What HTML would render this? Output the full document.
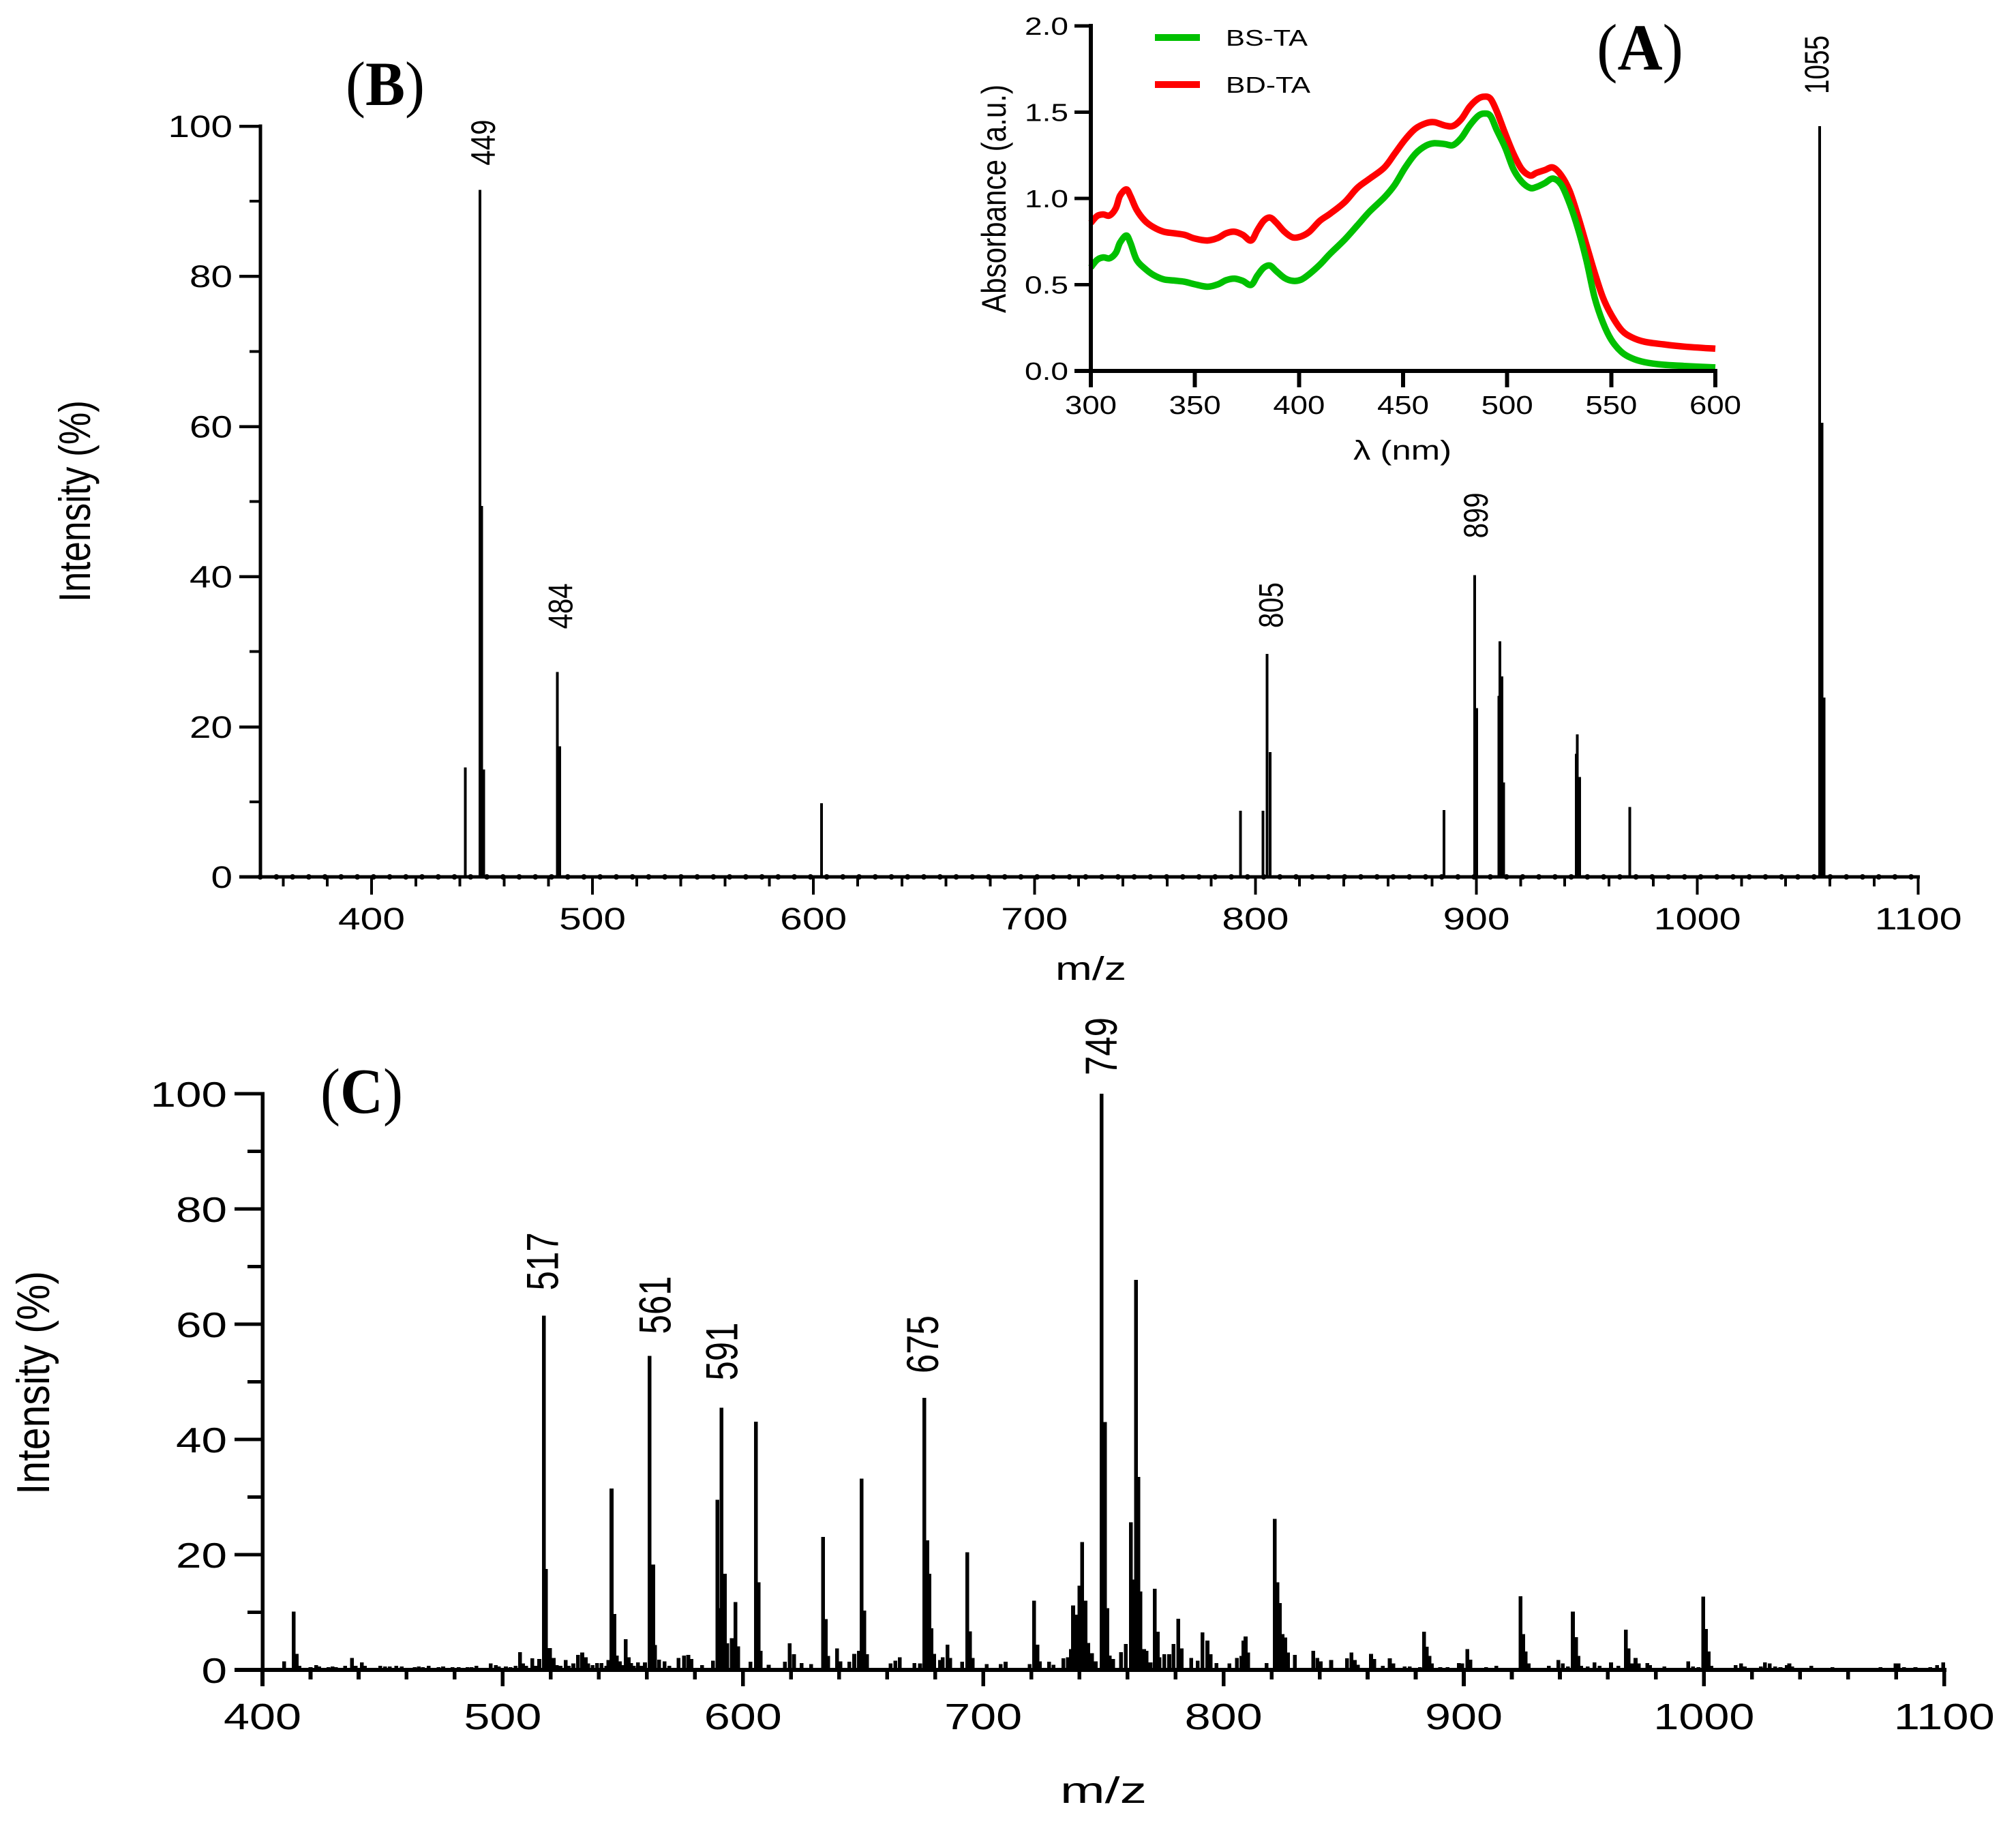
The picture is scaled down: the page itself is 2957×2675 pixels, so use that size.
<!DOCTYPE html>
<html lang="en">
<head>
<meta charset="utf-8">
<title>Absorbance and mass spectra</title>
<style>
html,body{margin:0;padding:0;background:#fff;width:2957px;height:2675px;overflow:hidden}
svg{display:block}
text{font-family:"Liberation Sans",Arial,sans-serif;fill:#000}
.panel{font-family:"Liberation Serif","Times New Roman",serif}
</style>
</head>
<body>
<svg id="figure" xmlns="http://www.w3.org/2000/svg" width="2957" height="2675" viewBox="0 0 2957 2675">
  <rect x="0" y="0" width="2957" height="2675" fill="#fff"/>

  <g id="panel-a">
    <text class="panel" x="2342" y="102" font-size="96" font-weight="bold" textLength="127" lengthAdjust="spacingAndGlyphs"><tspan font-weight="normal">(</tspan>A<tspan font-weight="normal">)</tspan></text>
    <text transform="translate(1475,459) rotate(-90)" font-size="50" textLength="335" lengthAdjust="spacingAndGlyphs">Absorbance (a.u.)</text>
    <text x="1985" y="674" font-size="40" textLength="144" lengthAdjust="spacingAndGlyphs">λ (nm)</text>
    <rect x="1694" y="50" width="66" height="10" fill="#00c000"/>
    <text x="1798" y="67" font-size="33" textLength="120" lengthAdjust="spacingAndGlyphs">BS-TA</text>
    <rect x="1694" y="119" width="66" height="10" fill="#ff0000"/>
    <text x="1798" y="136" font-size="33" textLength="124" lengthAdjust="spacingAndGlyphs">BD-TA</text>
  </g>

  <g id="panel-b">
    <text class="panel" x="507" y="154" font-size="92" font-weight="bold" textLength="116" lengthAdjust="spacingAndGlyphs"><tspan font-weight="normal">(</tspan>B<tspan font-weight="normal">)</tspan></text>
    <text transform="translate(132,883) rotate(-90)" font-size="65" textLength="296" lengthAdjust="spacingAndGlyphs">Intensity (%)</text>
    <text x="1548" y="1437" font-size="48" textLength="104" lengthAdjust="spacingAndGlyphs">m/z</text>
  </g>

  <g id="panel-c">
    <text class="panel" x="470" y="1632" font-size="94" font-weight="bold" textLength="121" lengthAdjust="spacingAndGlyphs"><tspan font-weight="normal">(</tspan>C<tspan font-weight="normal">)</tspan></text>
    <text transform="translate(72,2192) rotate(-90)" font-size="68" textLength="328" lengthAdjust="spacingAndGlyphs">Intensity (%)</text>
    <text x="1555" y="2644" font-size="54" textLength="127" lengthAdjust="spacingAndGlyphs">m/z</text>
  </g>
</svg>

<script>
// ---------- Panel A data ----------
const aWavelength = [300,303,306,309,312,314,317,319,322,326,330,335,340,345,350,356,361,365,369,373,377,380,383,386,389,393,397,401,405,410,415,422,428,434,441,446,451,456,461,465,470,474,478,482,486,489,492,495,499,503,507,511,514,518,522,526,530,534,538,542,546,550,555,560,566,575,585,600];
const aBsTa = [0.60,0.644,0.658,0.653,0.684,0.743,0.785,0.743,0.644,0.593,0.557,0.531,0.524,0.517,0.502,0.488,0.502,0.526,0.535,0.522,0.499,0.553,0.598,0.611,0.58,0.539,0.522,0.529,0.562,0.616,0.68,0.762,0.843,0.925,1.006,1.079,1.179,1.26,1.306,1.32,1.315,1.309,1.351,1.423,1.478,1.492,1.478,1.396,1.296,1.17,1.097,1.061,1.066,1.088,1.115,1.079,0.97,0.825,0.644,0.426,0.281,0.181,0.109,0.073,0.051,0.036,0.029,0.02];
const aBdTa = [0.858,0.898,0.907,0.901,0.943,1.015,1.052,1.015,0.934,0.87,0.834,0.807,0.798,0.789,0.767,0.756,0.771,0.798,0.807,0.789,0.756,0.816,0.87,0.889,0.861,0.807,0.774,0.78,0.807,0.87,0.912,0.979,1.061,1.115,1.179,1.26,1.342,1.405,1.436,1.442,1.423,1.42,1.46,1.532,1.578,1.59,1.578,1.505,1.378,1.26,1.17,1.133,1.148,1.164,1.179,1.133,1.043,0.898,0.734,0.571,0.426,0.326,0.236,0.194,0.169,0.154,0.141,0.129];
const aXTickLabels = ['300','350','400','450','500','550','600'];
const aYTickLabels = ['0.0','0.5','1.0','1.5','2.0'];

// ---------- Panel B data ----------
const bMz = [442.4,449.1,449.9,450.7,484.1,485.1,603.7,793.3,803.5,805.2,806.7,885.4,899.3,900.2,910.2,910.6,911.6,912.3,945.2,945.7,946.7,969.4,1055.4,1056.4,1057.3];
const bIntensity = [14.6,91.5,49.4,14.3,27.3,17.4,9.8,8.8,8.8,29.7,16.6,8.9,40.2,22.5,24.1,31.4,26.7,12.6,16.4,19,13.3,9.3,100,60.5,23.9];
const bXTickLabels = ['400','500','600','700','800','900','1000','1100'];
const bYTickLabels = ['0','20','40','60','80','100'];
const bPeakLabels = ['449','484','805','899','1055'];
const bPeakLabelMz = [449.1,484.1,805.2,899.3,1055.4];
const bPeakLabelIntensity = [91.5,27.3,29.7,40.2,100];

// ---------- Panel C data ----------
const cMz = [409,413,414.3,415.4,420,422.4,423.6,427.4,429.2,430.6,434.4,437.2,438.8,441.4,442.6,449,451,453,455.7,458,463.3,465,466.7,469.2,473.3,475.2,479.1,481.7,485.3,487,489,495,497.1,498.4,501.3,503.2,505.4,507.2,508.5,509.8,512.3,513.6,515.2,517.1,518,519.6,521.2,522.5,524.1,526.2,527.5,529.4,531.3,533.1,534.5,535.5,537.4,539.3,541.1,543.1,544,545.3,546.5,547.5,548.7,550,551.2,552.5,553.5,554.5,556.3,557.5,559.2,561.1,562.6,563.4,565.1,567.4,569.3,573.2,575.4,577.2,578.5,583,587.5,589.3,590.2,591.1,592.4,593.5,595.3,596.9,598,603.1,605.4,606.5,607.4,610.7,617.4,619.4,621.2,624.4,628.4,633.3,634.4,635.5,639.1,640.6,644.2,646.3,648.2,649.4,650.5,651.6,661.4,663.4,665.2,671.3,673.7,675.5,676.7,677.6,678.4,679.6,682,683.1,685.1,686.3,691.2,693.4,694.5,695.6,701.4,707.3,709.3,719.3,721.1,722.5,723.6,727.4,729.2,733.4,735.2,736.5,737.4,738.4,740.1,741.2,742.6,743.7,745.3,746.8,749.3,750.6,751.7,752.7,754,757.3,759.3,761.4,762.3,763.6,764.5,765.4,766.9,768,769.6,771.4,772.6,773.4,775.4,777.4,779.2,781.2,782.6,786.6,789.3,791.3,793.3,794.6,797.1,802.5,805.6,807.4,808.3,809.2,810.3,817.9,821.3,822.4,823.5,824.6,825.7,826.8,829.7,837.4,839.1,840.5,844.8,851.4,853.2,854.7,856,861.4,862.7,866.3,869.2,870.7,875.4,877.5,881.8,883.5,884.6,885.7,886.7,890.2,893.3,897.9,899.3,901.5,902.8,909.3,913.5,923.6,924.7,925.7,927,935.4,939.4,941.2,943.4,945.4,946.7,947.8,948.9,951.6,954.4,956.5,961.3,964.4,967.5,968.6,969.9,971.5,972.8,976.4,977.5,983.5,993.4,995.4,997.7,999.7,1000.8,1001.9,1003,1013.2,1015.4,1016.9,1023.6,1025.4,1027.3,1029.6,1031.8,1034.5,1035.5,1036.7,1044.6,1053.5,1073.4,1079.7,1081,1083.2,1088,1094.2,1097,1099.6];
const cIntensity = [1.5,10.1,2.8,0.7,0.5,0.8,0.6,0.5,0.6,0.5,0.7,2.1,0.7,1.3,0.7,0.7,0.6,0.6,0.7,0.6,0.5,0.6,0.5,0.7,0.5,0.6,0.5,0.5,0.5,0.5,0.7,1.1,0.8,0.6,0.6,0.5,0.7,3.1,1.1,0.7,2,0.7,1.9,61.5,17.5,3.8,2.1,0.8,0.7,1.7,0.7,1.1,2.6,3,2.2,1.1,0.8,1.2,1.2,0.7,1.7,31.5,9.7,2.5,1.5,0.8,5.3,2.2,1.2,0.7,1.3,0.7,1.3,54.5,18.3,4.3,1.8,1.5,0.7,2.1,2.5,2.6,1.9,0.8,1.6,29.5,10.7,45.5,16.7,4.6,5.5,11.8,4.1,1.4,43.1,15.2,3.3,0.9,1.4,4.6,2.7,1.2,1,23.1,8.8,2.4,3.7,1.5,1.4,2.8,3.3,33.2,10.3,2.7,1.1,1.6,2.2,1.2,1.1,47.2,22.5,16.7,7.2,2.8,1.7,2.2,4.4,2.1,1.4,20.4,6.7,2.1,1,1,1.4,1,12,4.4,1.5,1.4,0.9,2,2.2,3.6,11.2,9.6,14.6,22.2,12,4.7,2.9,1.5,100,43,10.7,2.5,1.9,3.1,4.5,25.6,15.7,67.7,33.5,13.6,3.6,3.3,1.3,14.1,6.6,2.2,2.7,2.7,4.5,8.9,3.7,2.1,1.6,6.5,5.1,2.7,1.2,1.1,2.1,2.4,5.1,5.8,3,1.2,26.2,15.2,11.6,6.2,5.6,3,2.6,3.3,2.1,1.5,1.7,2,3,1.7,0.9,2.8,1.9,0.7,2,1.1,0.6,0.6,0.5,6.6,4,2.4,1.1,0.5,0.5,1.2,1.1,3.6,1.8,0.5,0.7,12.8,6.2,3.2,1.1,0.7,1.7,1.1,0.6,10.1,5.7,2.4,0.7,0.6,1.3,0.7,1.3,0.7,7,3.7,1.1,2.1,1.1,1.2,0.8,0.6,1.5,0.6,0.5,12.7,7.1,3.2,0.7,0.8,1.1,0.6,0.6,1.3,1.1,0.6,0.5,0.8,1.1,0.6,0.7,0.5,0.5,1.1,1.1,0.5,0.5,0.5,0.8,1.3];
const cXTickLabels = ['400','500','600','700','800','900','1000','1100'];
const cYTickLabels = ['0','20','40','60','80','100'];
const cPeakLabels = ['517','561','591','675','749'];
const cPeakLabelMz = [517.1,561.1,591.1,675.5,749.3];
const cPeakLabelIntensity = [61.5,54.5,45.5,47.2,100];

// ---------- Axis functions ----------
const xA = v => 1600 + (v - 300) * (2516 - 1600) / 300;
const yA = v => 544 - v * (544 - 38) / 2;
const xB = v => 545 + (v - 400) * 3.241;
const yB = v => 1286 - v * 11.01;
const xC = v => 385 + (v - 400) * 3.524;
const yC = v => 2449 - v * 8.45;

const NS = 'http://www.w3.org/2000/svg';
const gA = document.getElementById('panel-a');
const gB = document.getElementById('panel-b');
const gC = document.getElementById('panel-c');

function addRect(parent, name, x, y, w, h, fill) {
  const el = document.createElementNS(NS, 'rect');
  
  
  el.setAttribute('x', x);
  el.setAttribute('y', y);
  el.setAttribute('width', w);
  el.setAttribute('height', h);
  el.setAttribute('fill', fill || '#000');
  el.setAttribute('shape-rendering', 'crispEdges');
  parent.appendChild(el);
}
function addText(parent, name, str, x, y, size, width, anchor, rot) {
  const el = document.createElementNS(NS, 'text');
  
  
  if (rot) {
    el.setAttribute('transform', 'translate(' + x + ',' + y + ') rotate(-90)');
  } else {
    el.setAttribute('x', x);
    el.setAttribute('y', y);
  }
  el.setAttribute('font-size', size);
  el.setAttribute('text-anchor', anchor);
  el.setAttribute('textLength', width);
  el.setAttribute('lengthAdjust', 'spacingAndGlyphs');
  el.textContent = str;
  parent.appendChild(el);
}
function smoothPath(xs, ys) {
  const p = xs.map((v, i) => [xA(v), yA(ys[i])]);
  let d = 'M' + p[0][0].toFixed(1) + ' ' + p[0][1].toFixed(1);
  for (let i = 0; i < p.length - 1; i++) {
    const p0 = p[Math.max(0, i - 1)], p1 = p[i], p2 = p[i + 1], p3 = p[Math.min(p.length - 1, i + 2)];
    const c1x = p1[0] + (p2[0] - p0[0]) / 6, c1y = p1[1] + (p2[1] - p0[1]) / 6;
    const c2x = p2[0] - (p3[0] - p1[0]) / 6, c2y = p2[1] - (p3[1] - p1[1]) / 6;
    d += 'C' + c1x.toFixed(1) + ' ' + c1y.toFixed(1) + ' ' + c2x.toFixed(1) + ' ' + c2y.toFixed(1) + ' ' + p2[0].toFixed(1) + ' ' + p2[1].toFixed(1);
  }
  return d;
}
function addLine(parent, name, xs, ys, color) {
  const el = document.createElementNS(NS, 'path');
  
  
  el.setAttribute('d', smoothPath(xs, ys));
  el.setAttribute('fill', 'none');
  el.setAttribute('stroke', color);
  el.setAttribute('stroke-width', '9.5');
  el.setAttribute('stroke-linejoin', 'round');
  parent.appendChild(el);
}

// ---------- Panel A ----------
addLine(gA, 'series-bd-ta', aWavelength, aBdTa, '#ff0000');
addLine(gA, 'series-bs-ta', aWavelength, aBsTa, '#00c000');
addRect(gA, 'panel-a-y-axis-line', 1597, 35, 6, 512);
addRect(gA, 'panel-a-x-axis-line', 1576, 541, 943, 6);
aYTickLabels.forEach(lab => {
  const v = parseFloat(lab);
  addRect(gA, 'panel-a-y-tick', 1576, yA(v) - 2.5, 24, 5);
  addText(gA, 'panel-a-y-tick-label', lab, 1567, yA(v) + 13, 36, 64, 'end');
});
aXTickLabels.forEach(lab => {
  const v = parseFloat(lab);
  addRect(gA, 'panel-a-x-tick', xA(v) - 3, 544, 6, 24);
  addText(gA, 'panel-a-x-tick-label', lab, xA(v), 607, 38, 76, 'middle');
});

// ---------- Panel B ----------
bMz.forEach((m, i) => {
  addRect(gB, 'panel-b-peak', xB(m) - 2, yB(bIntensity[i]), 4, yB(0) - yB(bIntensity[i]));
});
addRect(gB, 'panel-b-y-axis-line', 379.5, 182.5, 5, 1106);
addRect(gB, 'panel-b-x-axis-line', 351, 1283.5, 2465, 5);
for (let m = 349.6; m < 1098; m += 7.325) {
  const dot = document.createElementNS(NS, 'circle');
  
  
  dot.setAttribute('cx', xB(m));
  dot.setAttribute('cy', yB(0));
  dot.setAttribute('r', 4);
  gB.appendChild(dot);
}
for (let v = 10; v < 100; v += 20) {
  addRect(gB, 'panel-b-y-minor-tick', 366, yB(v) - 2, 15, 4);
}
bYTickLabels.forEach(lab => {
  const v = Number(lab);
  addRect(gB, 'panel-b-y-tick', 351, yB(v) - 2, 30, 4.5);
  addText(gB, 'panel-b-y-tick-label', lab, 341, yB(v) + 16, 45, lab.length * 31.5, 'end');
});
for (let m = 360; m <= 1100; m += 20) {
  if (m % 100) addRect(gB, 'panel-b-x-minor-tick', xB(m) - 2, 1286, 4, 14);
}
bXTickLabels.forEach(lab => {
  const v = Number(lab);
  addRect(gB, 'panel-b-x-tick', xB(v) - 2, 1286, 4, 26);
  addText(gB, 'panel-b-x-tick-label', lab, xB(v), 1363, 45, lab.length === 4 ? 128 : 98, 'middle');
});
// Hand placement of each annotation relative to its peak: [right of bar, gap above bar].
const bLabelPlacement = {'449':[22,36],'484':[22,63],'805':[23,38],'899':[19,54],'1055':[13,47]};
bPeakLabels.forEach((lab, i) => {
  const place = bLabelPlacement[lab] || [24,40];
  const x = xB(bPeakLabelMz[i]) + place[0];
  const bottom = yB(bPeakLabelIntensity[i]) - place[1];
  addText(gB, 'panel-b-peak-label', lab, x, bottom, 50, lab.length === 4 ? 86 : 67, 'start', true);
});

// ---------- Panel C ----------
cMz.forEach((m, i) => {
  addRect(gC, 'panel-c-peak', xC(m) - 2.8, yC(cIntensity[i]), 5.6, yC(0) - yC(cIntensity[i]));
});
addRect(gC, 'panel-c-y-axis-line', 382.5, 1601.5, 5.5, 871);
addRect(gC, 'panel-c-x-axis-line', 344, 2446, 2511, 6);
for (let v = 10; v < 100; v += 20) {
  addRect(gC, 'panel-c-y-minor-tick', 363, yC(v) - 2.5, 22, 5);
}
cYTickLabels.forEach(lab => {
  const v = Number(lab);
  addRect(gC, 'panel-c-y-tick', 344, yC(v) - 2.5, 41, 5);
  addText(gC, 'panel-c-y-tick-label', lab, 333, yC(v) + 19, 52, lab.length * 37.5, 'end');
});
for (let m = 420; m <= 1100; m += 20) {
  if (m % 100) addRect(gC, 'panel-c-x-minor-tick', xC(m) - 2.8, 2449, 5.6, 14);
}
cXTickLabels.forEach(lab => {
  const v = Number(lab);
  addRect(gC, 'panel-c-x-tick', xC(v) - 2.8, 2449, 5.6, 24);
  addText(gC, 'panel-c-x-tick-label', lab, xC(v), 2536, 54, lab.length === 4 ? 148 : 114, 'middle');
});
// Hand placement of each annotation relative to its peak: [right of bar, gap above bar].
const cLabelPlacement = {'517':[21,37],'561':[31,32],'591':[23,40],'675':[20,36],'749':[22,27]};
cPeakLabels.forEach((lab, i) => {
  const place = cLabelPlacement[lab] || [24,36];
  const x = xC(cPeakLabelMz[i]) + place[0];
  const bottom = yC(cPeakLabelIntensity[i]) - place[1];
  addText(gC, 'panel-c-peak-label', lab, x, bottom, 66, 85, 'start', true);
});
</script>
</body>
</html>
